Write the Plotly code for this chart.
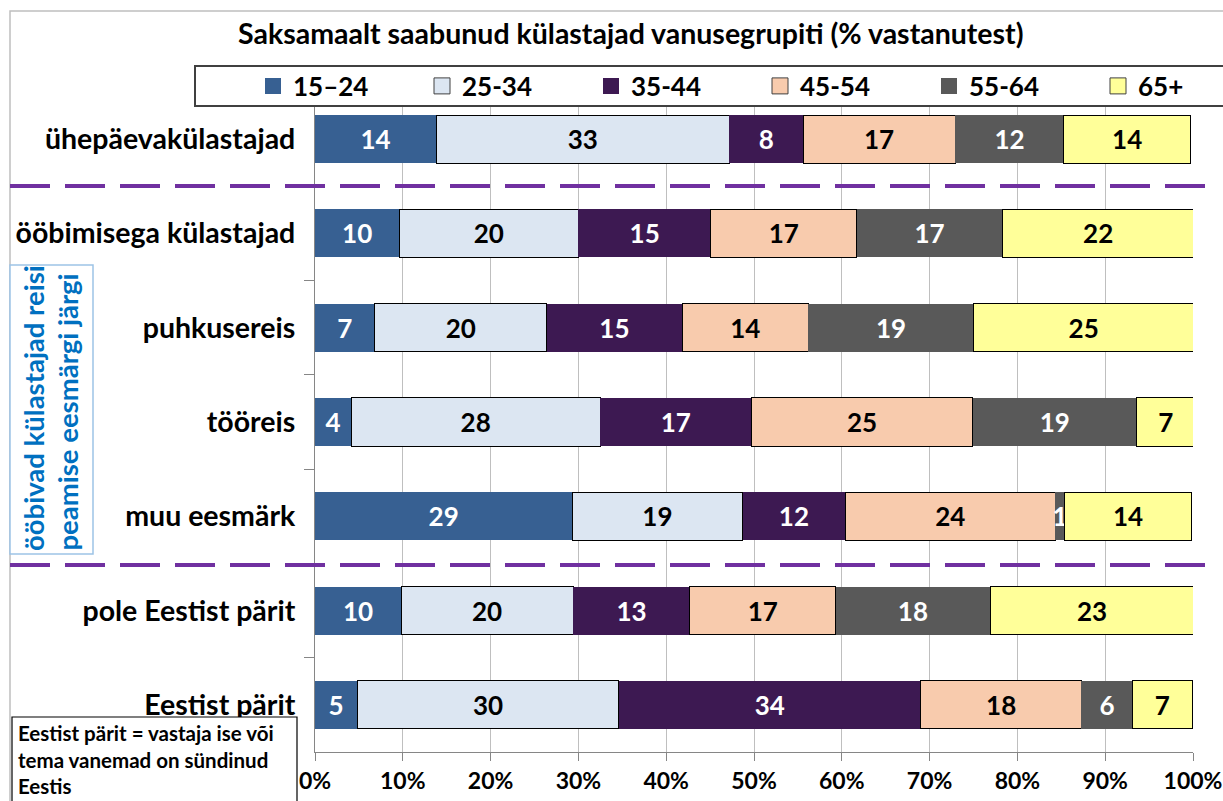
import plotly.graph_objects as go

categories = ["ühepäevakülastajad", "ööbimisega külastajad", "puhkusereis", "tööreis",
              "muu eesmärk", "pole Eestist pärit", "Eestist pärit"]
series_names = ["15–24", "25-34", "35-44", "45-54", "55-64", "65+"]
v_15_24 = [13.8, 9.6, 6.8, 4.1, 29.3, 9.8, 4.8]
v_25_34 = [33.4, 20.4, 19.6, 28.4, 19.4, 19.6, 29.8]
v_35_44 = [8.4, 15.1, 15.4, 17.2, 11.7, 13.3, 34.4]
v_45_54 = [17.3, 16.6, 14.4, 25.2, 23.9, 16.6, 18.3]
v_55_64 = [12.4, 16.6, 18.8, 18.7, 1.1, 17.6, 5.8]
v_65 = [14.4, 21.8, 25.1, 6.6, 14.4, 23.2, 6.8]
series_values = [v_15_24, v_25_34, v_35_44, v_45_54, v_55_64, v_65]
x_ticks = [0, 10, 20, 30, 40, 50, 60, 70, 80, 90, 100]
x_tick_labels = [f"{t}%" for t in x_ticks]

colors = ["#376092", "#DCE6F2", "#3D1952", "#F8CBAD", "#595959", "#FFFF99"]
text_colors = ["white", "black", "white", "black", "white", "black"]
outlined = [False, True, False, True, False, True]

FONT = "Lato"
W, H = 1223, 801
ML, MR, MT, MB = 315, 30, 92, 49
PW, PH = W - ML - MR, H - MT - MB


def PX(x):
    return (x - ML) / PW


def PY(y):
    return (H - MB - y) / PH


fig = go.Figure()
for name, vals, col, tcol, ol in zip(series_names, series_values, colors, text_colors, outlined):
    fig.add_trace(go.Bar(
        y=categories, x=vals, orientation="h", name=name, showlegend=False,
        marker=dict(color=col, line=dict(color="black" if ol else col, width=1 if ol else 0)),
        texttemplate="%{x:.0f}", textposition="inside", insidetextanchor="middle",
        textangle=0, constraintext="none",
        textfont=dict(family=FONT, size=26, color=tcol, weight="bold"),
    ))
for name, col, ol in zip(series_names, colors, outlined):
    fig.add_trace(go.Scatter(
        x=[None], y=[None], mode="markers", name=name,
        marker=dict(symbol="square", size=16, color=col,
                    line=dict(color="#404040" if ol else col, width=1 if ol else 0)),
    ))

shapes = []
# outer chart border
shapes.append(dict(type="rect", xref="paper", yref="paper", x0=PX(10), x1=PX(1240),
                   y0=PY(11), y1=PY(820), line=dict(color="#BFBFBF", width=1.5), layer="below"))
# legend box
shapes.append(dict(type="rect", xref="paper", yref="paper", x0=PX(195), x1=PX(1240),
                   y0=PY(66), y1=PY(106), line=dict(color="#404040", width=2),
                   fillcolor="white", layer="above"))
# dashed separators
for yy in [186, 565]:
    shapes.append(dict(type="line", xref="paper", yref="paper", x0=PX(10), x1=PX(1210),
                       y0=PY(yy), y1=PY(yy), line=dict(color="#7030A0", width=4, dash="40px,15px"),
                       layer="above"))
# rotated text box border
shapes.append(dict(type="rect", xref="paper", yref="paper", x0=PX(10), x1=PX(93),
                   y0=PY(265), y1=PY(554), line=dict(color="#9DC3E6", width=1.5),
                   fillcolor="white", layer="above"))
# bottom note box
shapes.append(dict(type="rect", xref="paper", yref="paper", x0=PX(12), x1=PX(297),
                   y0=PY(717), y1=PY(815), line=dict(color="black", width=1.2),
                   fillcolor="white", layer="above"))

side_lines = ["ööbivad külastajad reisi", "peamise eesmärgi järgi"]
side_x = [33, 67]

annotations = [
    dict(text="Saksamaalt saabunud külastajad vanusegrupiti (% vastanutest)", xref="paper", yref="paper",
         x=PX(631), y=PY(33), xanchor="center", yanchor="middle", showarrow=False,
         font=dict(family=FONT, size=28.5, color="black", weight="bold")),
    dict(text="Eestist pärit = vastaja ise või<br>tema vanemad on sündinud<br>Eestis", xref="paper",
         yref="paper", x=PX(16), y=PY(719), xanchor="left", yanchor="top", showarrow=False,
         align="left", font=dict(family=FONT, size=20.5, color="black", weight="bold")),
]
for txt, sx in zip(side_lines, side_x):
    annotations.append(dict(text=txt, xref="paper", yref="paper", x=PX(sx), y=PY(553),
                            xanchor="center", yanchor="bottom", showarrow=False, textangle=-90,
                            font=dict(family=FONT, size=27.5, color="#0070C0", weight="bold")))

fig.update_layout(
    width=W, height=H, margin=dict(l=ML, r=MR, t=MT, b=MB, autoexpand=False),
    barmode="stack", bargap=0.49,
    plot_bgcolor="white", paper_bgcolor="white",
    uniformtext=dict(minsize=26, mode="show"),
    showlegend=True,
    legend=dict(orientation="h", x=PX(253), y=PY(86), xanchor="left", yanchor="middle",
                entrywidth=124, entrywidthmode="pixels", bgcolor="rgba(0,0,0,0)",
                font=dict(family=FONT, size=26, color="black", weight="bold"),
                traceorder="normal", itemsizing="trace"),
    shapes=shapes, annotations=annotations,
    font=dict(family=FONT),
)
fig.update_xaxes(range=[0, 100], tickvals=x_ticks, ticktext=x_tick_labels,
                 showgrid=True, gridcolor="#BFBFBF", gridwidth=1,
                 showline=True, linecolor="#868686", linewidth=1,
                 ticks="outside", ticklen=8, tickcolor="#868686",
                 ticklabeloverflow="allow",
                 tickfont=dict(family=FONT, size=23, color="black", weight="bold"),
                 zeroline=False, fixedrange=True)
fig.update_yaxes(categoryorder="array", categoryarray=categories, autorange="reversed",
                 showgrid=False, showline=True, linecolor="#868686", linewidth=1,
                 ticks="outside", ticklen=10, tickcolor="#868686", tickson="boundaries",
                 ticklabelstandoff=13,
                 tickfont=dict(family=FONT, size=28.5, color="black", weight="bold"),
                 fixedrange=True)

fig.write_html("out.html", config={"displayModeBar": False},
               post_script="document.body.style.margin='0px';")
